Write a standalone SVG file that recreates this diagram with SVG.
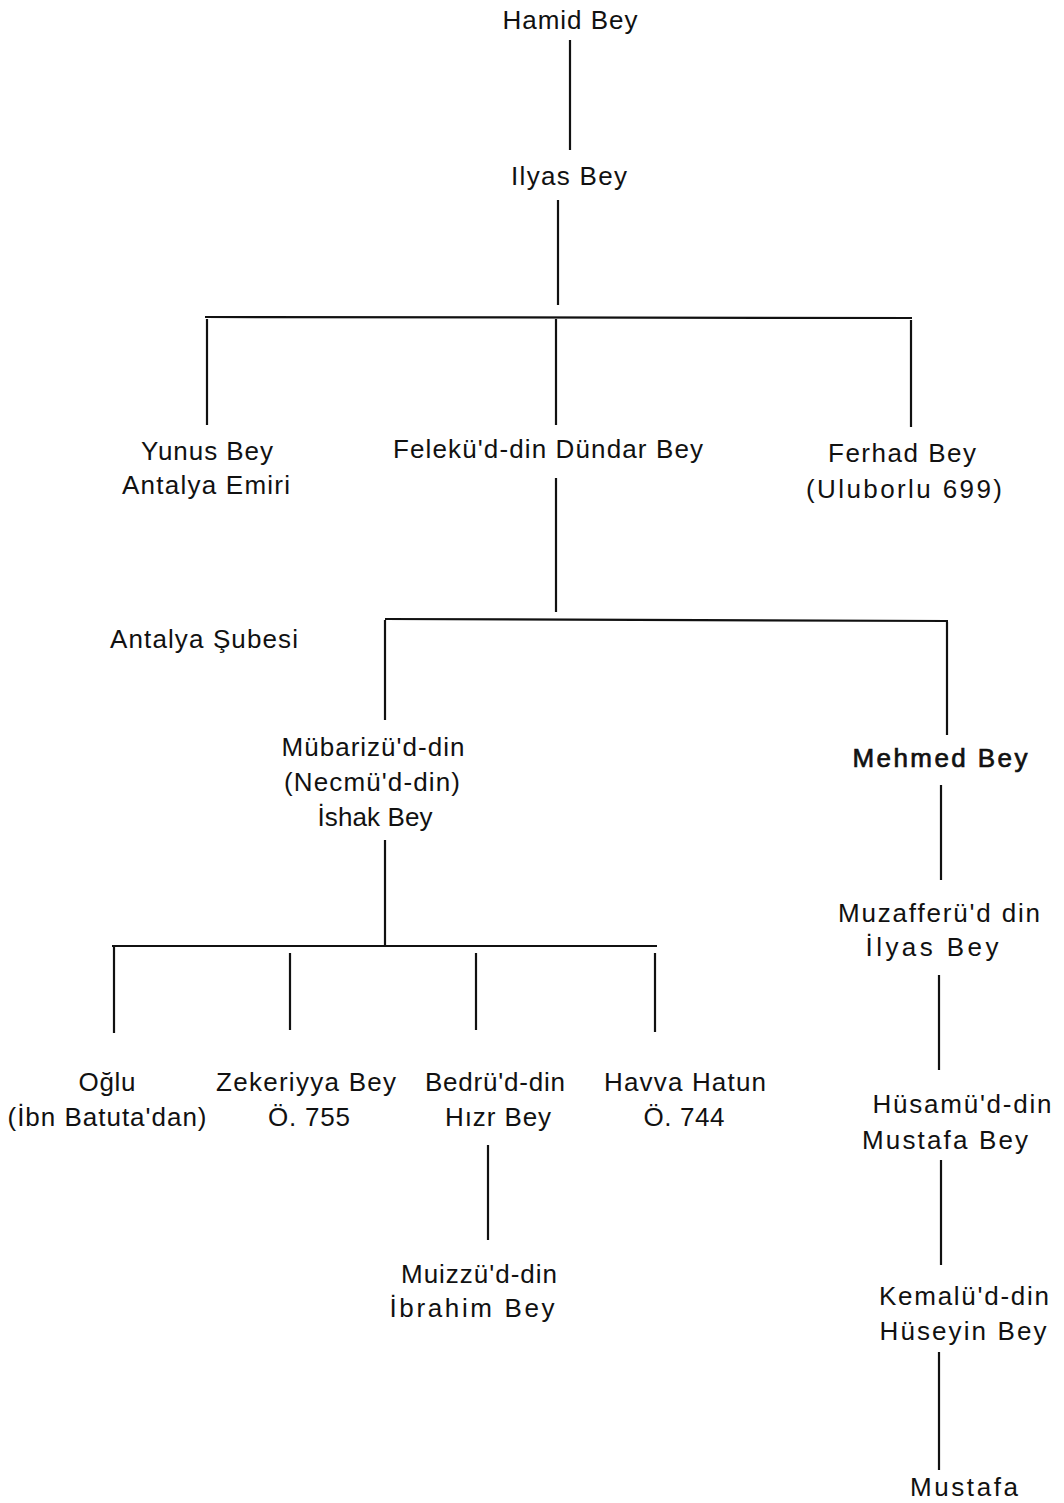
<svg xmlns="http://www.w3.org/2000/svg" width="1064" height="1503" viewBox="0 0 1064 1503">
<style>
text{font-family:"Liberation Sans",Arial,sans-serif;font-size:26px;fill:#111;text-anchor:middle}
.b{stroke:#111;stroke-width:0.7}
.l{text-anchor:start}
#connectors line{stroke:#111;stroke-width:2.2;fill:none}
</style>
<rect width="1064" height="1503" fill="#fff"/>
<g id="connectors">
<line x1="570" y1="40" x2="570" y2="150"/>
<line x1="558" y1="200" x2="558" y2="305"/>
<line x1="205" y1="317" x2="912" y2="318"/>
<line x1="207" y1="319" x2="207" y2="425"/>
<line x1="556" y1="319" x2="556" y2="425"/>
<line x1="911" y1="320" x2="911" y2="427"/>
<line x1="556" y1="478" x2="556" y2="612"/>
<line x1="385" y1="619" x2="948" y2="621"/>
<line x1="385" y1="620" x2="385" y2="720"/>
<line x1="947" y1="622" x2="947" y2="735"/>
<line x1="385" y1="840" x2="385" y2="946"/>
<line x1="112" y1="946" x2="657" y2="946"/>
<line x1="114" y1="946" x2="114" y2="1033"/>
<line x1="290" y1="953" x2="290" y2="1030"/>
<line x1="476" y1="953" x2="476" y2="1030"/>
<line x1="655" y1="953" x2="655" y2="1032"/>
<line x1="488" y1="1145" x2="488" y2="1240"/>
<line x1="941" y1="785" x2="941" y2="880"/>
<line x1="939" y1="975" x2="939" y2="1070"/>
<line x1="941" y1="1160" x2="941" y2="1265"/>
<line x1="939" y1="1352" x2="939" y2="1470"/>
</g>
<g id="n-hamid"><text x="570" y="29" textLength="135">Hamid Bey</text></g>
<g id="n-ilyas"><text x="569" y="185" textLength="116">Ilyas Bey</text></g>
<g id="n-yunus"><text x="207" y="460" textLength="132">Yunus Bey</text><text x="206" y="494" textLength="168">Antalya Emiri</text></g>
<g id="n-dundar"><text x="548" y="458" textLength="310">Felekü'd-din Dündar Bey</text></g>
<g id="n-ferhad"><text x="902" y="462" textLength="148">Ferhad Bey</text><text x="904" y="498" textLength="196">(Uluborlu 699)</text></g>
<g id="n-subesi"><text class="l" x="110" y="648" textLength="188">Antalya Şubesi</text></g>
<g id="n-ishak"><text x="373" y="756" textLength="183">Mübarizü'd-din</text><text x="372" y="791" textLength="176">(Necmü'd-din)</text><text x="375" y="826" textLength="115">İshak Bey</text></g>
<g id="n-mehmed"><text class="b" x="940" y="767" textLength="175">Mehmed Bey</text></g>
<g id="n-oglu"><text x="107" y="1091" textLength="57">Oğlu</text><text x="107" y="1126" textLength="199">(İbn Batuta'dan)</text></g>
<g id="n-zekeriyya"><text x="306" y="1091" textLength="180">Zekeriyya Bey</text><text x="309" y="1126" textLength="82">Ö. 755</text></g>
<g id="n-hizr"><text x="495" y="1091" textLength="140">Bedrü'd-din</text><text x="498" y="1126" textLength="106">Hızr Bey</text></g>
<g id="n-havva"><text x="685" y="1091" textLength="162">Havva Hatun</text><text x="684" y="1126" textLength="81">Ö. 744</text></g>
<g id="n-ibrahim"><text x="479" y="1283" textLength="156">Muizzü'd-din</text><text x="472" y="1317" textLength="165">İbrahim Bey</text></g>
<g id="n-muzaffer"><text x="939" y="922" textLength="202">Muzafferü'd din</text><text x="932" y="956" textLength="133">İlyas Bey</text></g>
<g id="n-husam"><text x="962" y="1113" textLength="179">Hüsamü'd-din</text><text x="945" y="1149" textLength="166">Mustafa Bey</text></g>
<g id="n-kemal"><text x="964" y="1305" textLength="170">Kemalü'd-din</text><text x="963" y="1340" textLength="167">Hüseyin Bey</text></g>
<g id="n-mustafa"><text x="964" y="1496" textLength="108">Mustafa</text></g>
</svg>
